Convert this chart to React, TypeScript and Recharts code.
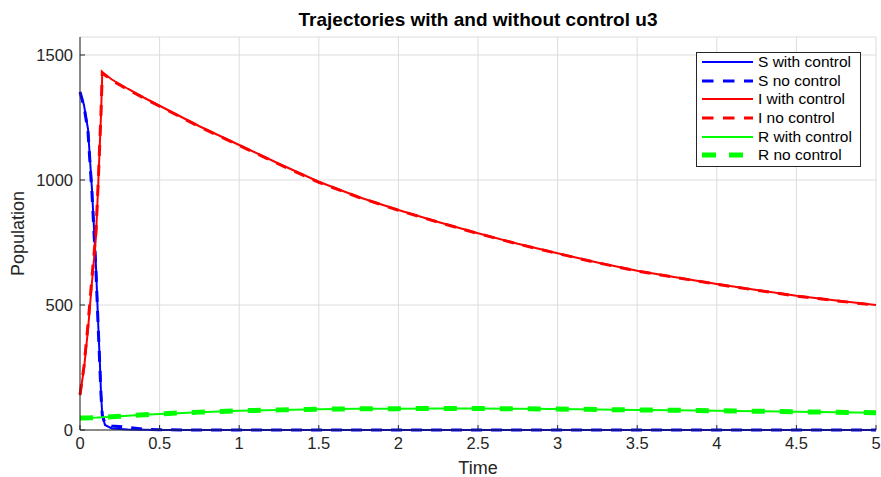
import React from 'react';
import { LineChart, Line, XAxis, YAxis, CartesianGrid, Legend, Label } from 'recharts';

const FONT = '"Liberation Sans", Arial, Helvetica, sans-serif';
const AXIS = '#262626';

const time = [0, 0.025, 0.05, 0.075, 0.1, 0.115, 0.125, 0.132, 0.14, 0.157, 0.2, 0.3, 0.4, 0.5, 0.75, 1, 1.25, 1.5, 1.75, 2, 2.25, 2.5, 2.75, 3, 3.25, 3.5, 3.75, 4, 4.25, 4.5, 4.75, 5];
const sWith = [1352, 1300, 1205, 965, 660, 413, 265, 147, 60, 20, 6, 2, 1, 0, 0, 0, 0, 0, 0, 0, 0, 0, 0, 0, 0, 0, 0, 0, 0, 0, 0, 0];
const sNo = [1352, 1295, 1195, 950, 640, 400, 250, 140, 60, 25, 16, 11, 3, 1, 0, 0, 0, 0, 0, 0, 0, 0, 0, 0, 0, 0, 0, 0, 0, 0, 0, 0];
const iWith = [140, 245, 400, 590, 770, 990, 1150, 1260, 1430, 1423, 1402, 1365, 1330, 1297, 1215, 1140, 1065, 993, 932, 880, 832, 787, 745, 707, 670, 637, 610, 584, 560, 537, 518, 500];
const iNo = [140, 255, 420, 610, 790, 1000, 1160, 1270, 1430, 1420, 1398, 1362, 1328, 1295, 1213, 1138, 1063, 991, 931, 879, 831, 786, 744, 706, 669, 636, 609, 583, 559, 536, 517, 499];
const rWith = [48, 48, 48.5, 49, 49.5, 50, 50, 50.5, 51, 51.5, 53, 57, 61, 64, 71, 77, 80, 83, 85, 85.5, 86, 86, 85, 84, 82, 80, 79, 77, 75, 73, 71, 69];
const rNo = [48, 48, 48.5, 49, 49.5, 50, 50, 50.5, 51, 51.5, 53, 57, 61, 64.5, 71.5, 77, 80.5, 83, 85, 85.5, 86, 86, 85, 84, 82, 80.5, 79, 77, 75, 73, 71, 69];

const xTicks = [0, 0.5, 1, 1.5, 2, 2.5, 3, 3.5, 4, 4.5, 5];
const yTicks = [0, 500, 1000, 1500];
const yMax = 1572;

const data = time.map((t, i) => ({
  t,
  sWith: sWith[i],
  sNo: sNo[i],
  iWith: iWith[i],
  iNo: iNo[i],
  rWith: rWith[i],
  rNo: rNo[i],
}));

const series = [
  { key: 'sWith', name: 'S with control', color: '#0000ff', width: 2, dash: undefined as string | undefined, legendDash: undefined as string | undefined },
  { key: 'sNo', name: 'S no control', color: '#0000ff', width: 3, dash: '11 9', legendDash: '11.5 9.5' },
  { key: 'iWith', name: 'I with control', color: '#ff0000', width: 2, dash: undefined, legendDash: undefined },
  { key: 'iNo', name: 'I no control', color: '#ff0000', width: 3, dash: '11 9', legendDash: '11.5 9.5' },
  { key: 'rWith', name: 'R with control', color: '#00ff00', width: 2, dash: undefined, legendDash: undefined },
  { key: 'rNo', name: 'R no control', color: '#00ff00', width: 5, dash: '13 15', legendDash: '14 13' },
];

const renderLegend = () => (
  <div
    style={{
      boxSizing: 'border-box',
      width: 165,
      border: `1px solid ${AXIS}`,
      background: '#fff',
      padding: '0 0 1px 5px',
      fontFamily: FONT,
      fontSize: 15.5,
      color: '#000',
    }}
  >
    {series.map((s) => (
      <div key={s.key} style={{ display: 'flex', alignItems: 'center', height: 18.6, whiteSpace: 'nowrap' }}>
        <svg width={51} height={10} style={{ marginRight: 5, display: 'block' }}>
          <line x1={0} y1={5} x2={51} y2={5} stroke={s.color} strokeWidth={s.width} strokeDasharray={s.legendDash} />
        </svg>
        <span>{s.name}</span>
      </div>
    ))}
  </div>
);

export default function App() {
  return (
    <div style={{ position: 'absolute', left: 0, top: 0, width: 881, height: 477, background: '#fff' }}>
      <div
        style={{
          position: 'absolute',
          left: 80,
          width: 796,
          top: 9,
          textAlign: 'center',
          fontFamily: FONT,
          fontWeight: 'bold',
          fontSize: 19,
          color: '#000',
          zIndex: 2,
        }}
      >
        Trajectories with and without control u3
      </div>
      <LineChart
        width={881}
        height={477}
        data={data}
        margin={{ top: 37, right: 5, bottom: 0, left: 0 }}
        style={{ fontFamily: FONT }}
      >
        <CartesianGrid stroke="#dcdcdc" strokeWidth={1} />
        <XAxis
          dataKey="t"
          type="number"
          domain={[0, 5]}
          ticks={xTicks}
          interval={0}
          height={47}
          tickSize={-5}
          tickMargin={12}
          stroke={AXIS}
          tick={{ fill: AXIS, fontSize: 16.5, fontFamily: FONT }}
        >
          <Label value="Time" position="insideBottom" offset={3} style={{ fill: AXIS, fontSize: 18, fontFamily: FONT }} />
        </XAxis>
        <XAxis
          xAxisId="top"
          orientation="top"
          type="number"
          domain={[0, 5]}
          ticks={xTicks}
          interval={0}
          height={0}
          tickSize={-5}
          tick={false}
          stroke={AXIS}
        />
        <YAxis
          type="number"
          domain={[0, yMax]}
          ticks={yTicks}
          interval={0}
          width={80}
          tickSize={-5}
          tickMargin={12}
          stroke={AXIS}
          tick={{ fill: AXIS, fontSize: 16.5, fontFamily: FONT }}
        >
          <Label
            value="Population"
            angle={-90}
            position="insideLeft"
            offset={18}
            style={{ fill: AXIS, fontSize: 18, fontFamily: FONT, textAnchor: 'middle' }}
          />
        </YAxis>
        <YAxis
          yAxisId="right"
          orientation="right"
          type="number"
          domain={[0, yMax]}
          ticks={yTicks}
          interval={0}
          width={0}
          tickSize={-5}
          tick={false}
          stroke={AXIS}
        />
        <Legend
          layout="vertical"
          align="center"
          verticalAlign="middle"
          content={renderLegend}
          wrapperStyle={{ left: 696, top: 52, width: 165, height: 'auto' }}
        />
        {series.map((s) => (
          <Line
            key={s.key}
            dataKey={s.key}
            name={s.name}
            type="linear"
            stroke={s.color}
            strokeWidth={s.width}
            strokeDasharray={s.dash}
            dot={false}
            activeDot={false}
            isAnimationActive={false}
          />
        ))}
      </LineChart>
    </div>
  );
}
